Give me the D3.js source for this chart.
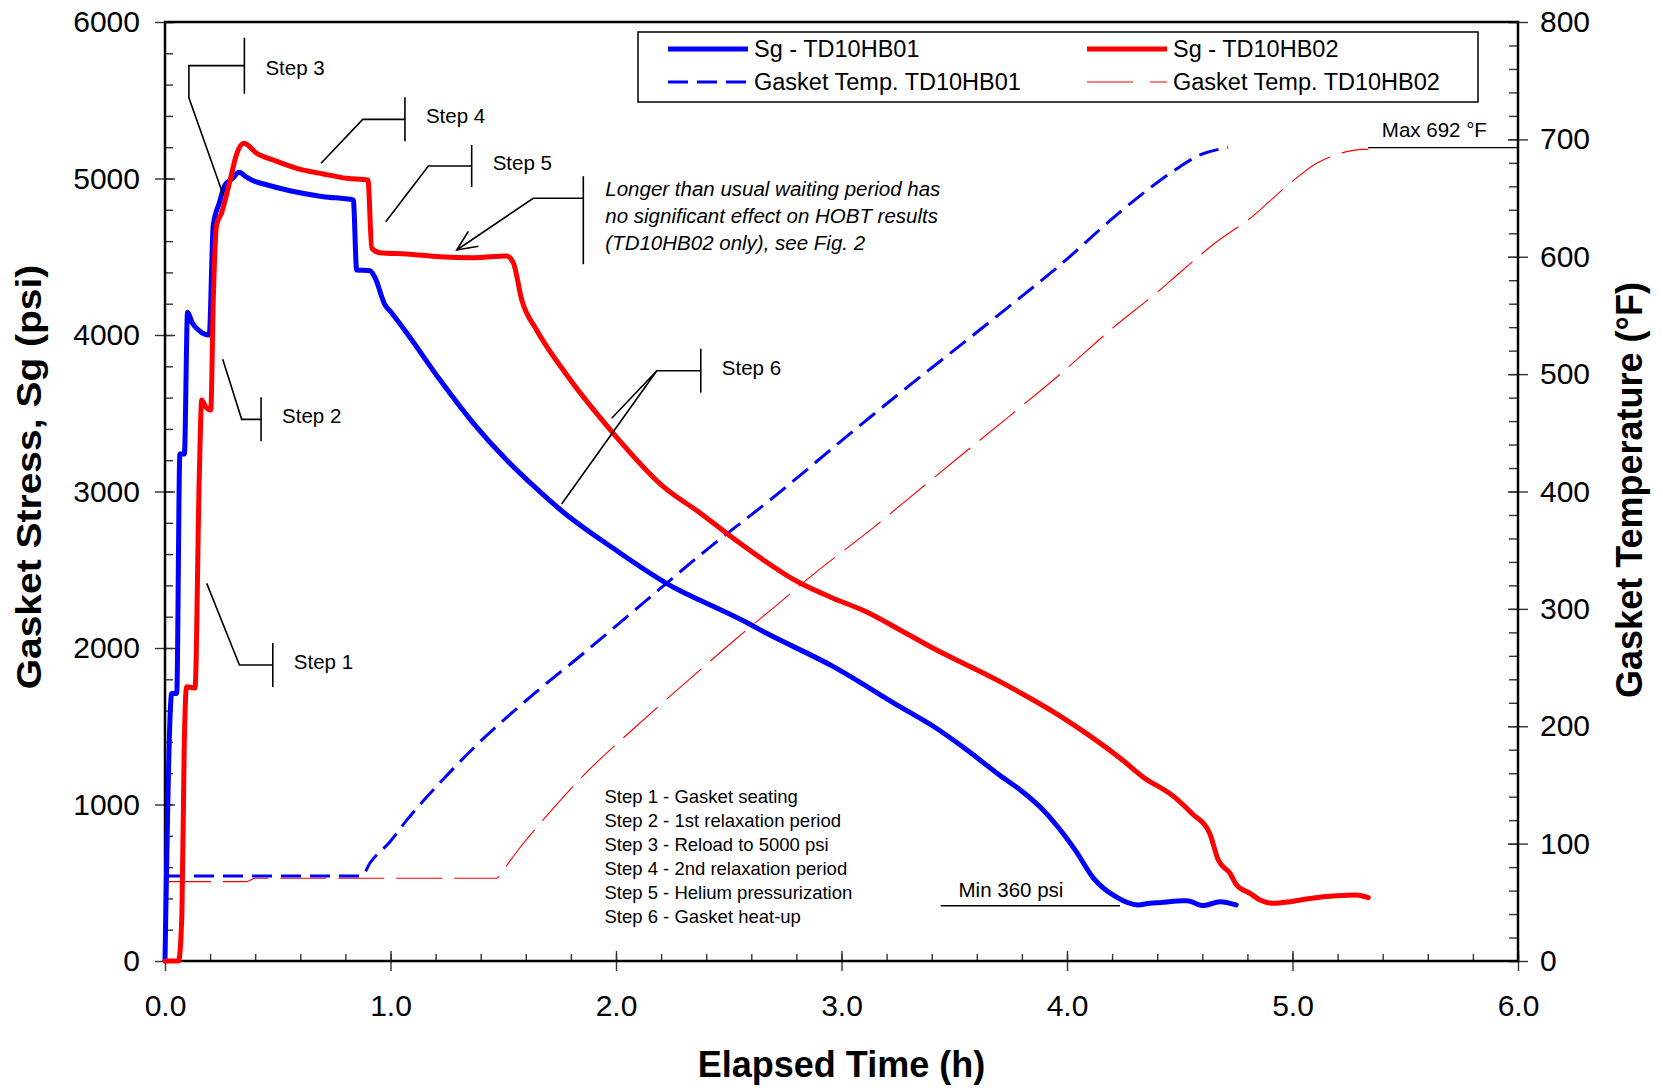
<!DOCTYPE html>
<html>
<head>
<meta charset="utf-8">
<script src="https://cdn.jsdelivr.net/npm/d3@7"></script>
<style>
  body { margin: 0; background: #fff; }
  svg { display: block; font-family: 'Liberation Sans', Arial, sans-serif; }
</style>
</head>
<body>
<div id="chart"></div>
<script>
// elapsed time (h) / gasket stress (psi)
const sg01Time = [0, 0.030, 0.052, 0.066, 0.086, 0.100, 0.120, 0.150, 0.196, 0.214, 0.240, 0.266, 0.300, 0.328, 0.360, 0.392, 0.450, 0.554, 0.702, 0.835,
  0.850, 0.909, 0.930, 0.976, 1.000, 1.072, 1.220, 1.367, 1.515, 1.654, 1.752, 1.988, 2.278, 2.373, 2.560, 2.668, 2.964, 3.259, 3.407, 3.555, 3.703,
  3.800, 3.880, 3.959, 4.038, 4.117, 4.216, 4.315, 4.368, 4.414, 4.516, 4.532, 4.605, 4.678, 4.750];
const sg01 = [0, 1710, 1710, 3240, 3240, 4145, 4080, 4030, 4000, 4700, 4840, 4958, 5000, 5040, 5010, 4985, 4960, 4922, 4884, 4863,
  4415, 4411, 4370, 4192, 4150, 4013, 3712, 3437, 3201, 3010, 2885, 2637, 2370, 2305, 2177, 2094, 1881, 1625, 1500, 1350, 1185,
  1085, 985, 858, 705, 530, 411, 358, 369, 373, 385, 385, 354, 379, 358];

const sg02Time = [0, 0.060, 0.075, 0.085, 0.096, 0.133, 0.152, 0.163, 0.180, 0.203, 0.214, 0.229, 0.251, 0.288, 0.318, 0.350, 0.407, 0.480, 0.584, 0.702,
  0.806, 0.900, 0.917, 0.953, 1.072, 1.220, 1.367, 1.515, 1.545, 1.582, 1.648, 1.766, 1.988, 2.210, 2.373, 2.520, 2.816, 2.960, 3.112, 3.260, 3.407, 3.703,
  3.970, 4.100, 4.246, 4.335, 4.474, 4.553, 4.632, 4.671, 4.723, 4.752, 4.812, 4.856, 4.915, 4.989, 5.078, 5.196, 5.284, 5.336];
const sg02 = [0, 0, 300, 1350, 1753, 1744, 3095, 3585, 3542, 3521, 4224, 4703, 4780, 4984, 5157, 5225, 5161, 5118, 5065, 5029,
  5001, 4990, 4554, 4526, 4518, 4500, 4494, 4505, 4460, 4224, 4032, 3776, 3372, 3031, 2863, 2701, 2415, 2320, 2230, 2115, 1998, 1785,
  1565, 1440, 1284, 1178, 1050, 944, 818, 645, 560, 486, 432, 390, 369, 379, 400, 417, 422, 405];

// elapsed time (h) / gasket temperature (°F)
const temp01Time = [0, 0.872, 0.909, 0.998, 1.072, 1.220, 1.382, 1.648, 1.855, 2.090, 2.410, 2.683, 3.030, 3.266, 3.500, 3.737, 3.970, 4.207, 4.368, 4.479, 4.590, 4.714];
const temp01 = [72.4, 72.4, 83.5, 101.6, 120, 152, 184, 229.5, 262, 300, 351.6, 392.7, 448, 485, 520.5, 556.7, 593, 633.5, 658.6, 674, 686.7, 693];

const temp02Time = [0, 0.360, 0.400, 1.470, 1.500, 1.566, 1.676, 1.855, 2.090, 2.373, 2.542, 2.697, 2.890, 3.140, 3.289, 3.500, 3.737, 3.970, 4.207, 4.412, 4.514, 4.664, 4.812, 4.989, 5.107, 5.210, 5.314, 5.336];
const temp02 = [67.6, 67.6, 70.5, 70.5, 77.5, 94.6, 120, 158, 200, 248, 276, 300.7, 331.7, 369, 392.7, 426, 463, 500, 540, 571.7, 588.7, 612.8, 632.7, 662.6, 679.6, 688, 691.5, 691.5];

const xTicks = [0, 1, 2, 3, 4, 5, 6];
const yTicks = [0, 1000, 2000, 3000, 4000, 5000, 6000];
const y2Ticks = [0, 100, 200, 300, 400, 500, 600, 700, 800];

const legendItems = ['Sg - TD10HB01', 'Sg - TD10HB02', 'Gasket Temp. TD10HB01', 'Gasket Temp. TD10HB02'];
const stepList = ['Step 1 - Gasket seating', 'Step 2 - 1st relaxation period', 'Step 3 - Reload to 5000 psi',
  'Step 4 - 2nd relaxation period', 'Step 5 - Helium pressurization', 'Step 6 - Gasket heat-up'];
const noteLines = ['Longer than usual waiting period has', 'no significant effect on HOBT results', '(TD10HB02 only), see Fig. 2'];

// callouts: leader points in (h, psi), last point is the bar
const callouts = [
  { label: 'Step 1', pts: [[0.185, 2413], [0.330, 1891], [0.478, 1891]], half: 22, dy: 4 },
  { label: 'Step 2', pts: [[0.256, 3845], [0.340, 3461], [0.426, 3461]], half: 22, dy: 4 },
  { label: 'Step 3', pts: [[0.2585, 4895], [0.106, 5516], [0.106, 5721], [0.352, 5721]], half: 28, dy: 9 },
  { label: 'Step 4', pts: [[0.692, 5097], [0.877, 5378], [1.064, 5378]], half: 22, dy: 4 },
  { label: 'Step 5', pts: [[0.979, 4724], [1.168, 5080], [1.360, 5080]], half: 21, dy: 4 },
  { label: 'Step 6', pts: [[1.981, 3468], [2.181, 3772], [1.759, 2920], [2.181, 3772], [2.376, 3772]], half: 22, dy: 4 }
];
const notePts = [[1.294, 4543], [1.633, 4874], [1.855, 4874]];

const width = 1663;
const height = 1088;
const margin = { top: 22, right: 145, bottom: 127, left: 165 };
const innerWidth = width - margin.left - margin.right;
const innerHeight = height - margin.top - margin.bottom;

const svg = d3.select('#chart').append('svg').attr('width', width).attr('height', height);
svg.append('rect').attr('width', width).attr('height', height).attr('fill', '#fff');

const defs = svg.append('defs');
defs.append('marker')
  .attr('id', 'openArrow')
  .attr('viewBox', '-22 -10 24 20')
  .attr('markerWidth', 24).attr('markerHeight', 20)
  .attr('markerUnits', 'userSpaceOnUse')
  .attr('orient', 'auto')
  .append('path')
  .attr('d', 'M-20,-9 L0,0 L-20,9')
  .attr('fill', 'none').attr('stroke', '#000').attr('stroke-width', 1.6);

const g = svg.append('g').attr('transform', `translate(${margin.left},${margin.top})`);

const x = d3.scaleLinear().domain([0, 6]).range([0, innerWidth]);
const y = d3.scaleLinear().domain([0, 6000]).range([innerHeight, 0]);
const y2 = d3.scaleLinear().domain([0, 800]).range([innerHeight, 0]);

const tickFont = 30;

// tick marks only (no labels)
const marks = (sel, axis) => sel.call(axis.tickFormat('')).call(s => s.selectAll('text').remove());

// x axis
const xMinor = d3.range(0, 6.0001, 0.2);
g.append('g').attr('transform', `translate(0,${innerHeight})`)
  .call(s => marks(s, d3.axisBottom(x).tickValues(xMinor).tickSize(-7)));
g.append('g').attr('transform', `translate(0,${innerHeight})`)
  .call(s => marks(s, d3.axisBottom(x).tickValues(xTicks).tickSize(-10)));
g.append('g').attr('class', 'xlab').attr('transform', `translate(0,${innerHeight})`)
  .call(d3.axisBottom(x).tickValues(xTicks).tickSize(10).tickPadding(24).tickFormat(d3.format('.1f')));

// left axis
const yMinor = d3.range(0, 6001, 200);
g.append('g').call(s => marks(s, d3.axisLeft(y).tickValues(yMinor).tickSize(-8)));
g.append('g').call(s => marks(s, d3.axisLeft(y).tickValues(yTicks).tickSize(-10)));
g.append('g').attr('class', 'ylab')
  .call(d3.axisLeft(y).tickValues(yTicks).tickSize(10).tickPadding(15).tickFormat(d3.format('d')));

// right axis
const y2Minor = d3.range(0, 801, 20);
g.append('g').attr('transform', `translate(${innerWidth},0)`)
  .call(s => marks(s, d3.axisRight(y2).tickValues(y2Minor).tickSize(-9)));
g.append('g').attr('transform', `translate(${innerWidth},0)`)
  .call(s => marks(s, d3.axisRight(y2).tickValues(y2Ticks).tickSize(-10)));
g.append('g').attr('class', 'y2lab').attr('transform', `translate(${innerWidth},0)`)
  .call(d3.axisRight(y2).tickValues(y2Ticks).tickSize(10).tickPadding(12).tickFormat(d3.format('d')));

g.selectAll('.domain').remove();
g.selectAll('.tick line').attr('stroke', '#333').attr('stroke-width', 1.4);
g.selectAll('.tick text').attr('font-size', tickFont).attr('fill', '#000')
  .attr('font-family', "'Liberation Sans', Arial, sans-serif");

// frame
g.append('rect').attr('width', innerWidth).attr('height', innerHeight)
  .attr('fill', 'none').attr('stroke', '#000').attr('stroke-width', 2.5);

// series
const lineY = d3.line().x(d => x(d[0])).y(d => y(d[1]));
const smoothY = d3.line().x(d => x(d[0])).y(d => y(d[1])).curve(d3.curveMonotoneX);
const smoothY2 = d3.line().x(d => x(d[0])).y(d => y2(d[1])).curve(d3.curveMonotoneX);
const zip = (a, b) => a.map((v, i) => [v, b[i]]);

g.append('path').datum(zip(temp02Time, temp02)).attr('d', smoothY2)
  .attr('fill', 'none').attr('stroke', '#ff0000').attr('stroke-width', 1.1).attr('stroke-dasharray', '46,12');
g.append('path').datum(zip(temp01Time, temp01)).attr('d', smoothY2)
  .attr('fill', 'none').attr('stroke', '#0000ff').attr('stroke-width', 3).attr('stroke-dasharray', '20,9');
g.append('path').datum(zip(sg01Time, sg01)).attr('d', smoothY)
  .attr('fill', 'none').attr('stroke', '#0000ff').attr('stroke-width', 5).attr('stroke-linejoin', 'round').attr('stroke-linecap', 'round');
g.append('path').datum(zip(sg02Time, sg02)).attr('d', smoothY)
  .attr('fill', 'none').attr('stroke', '#ff0000').attr('stroke-width', 5).attr('stroke-linejoin', 'round').attr('stroke-linecap', 'round');

// callouts
callouts.forEach(c => {
  const bar = c.pts[c.pts.length - 1];
  g.append('path').datum(c.pts).attr('d', lineY)
    .attr('fill', 'none').attr('stroke', '#000').attr('stroke-width', 1.6);
  g.append('line')
    .attr('x1', x(bar[0])).attr('x2', x(bar[0]))
    .attr('y1', y(bar[1]) - c.half).attr('y2', y(bar[1]) + c.half)
    .attr('stroke', '#000').attr('stroke-width', 1.6);
  g.append('text').attr('x', x(bar[0]) + 21).attr('y', y(bar[1]) + c.dy)
    .attr('font-size', 20.5).text(c.label);
});

// note with arrow
g.append('path').datum(notePts.slice().reverse()).attr('d', lineY)
  .attr('fill', 'none').attr('stroke', '#000').attr('stroke-width', 1.6)
  .attr('marker-end', 'url(#openArrow)');
const noteBar = notePts[notePts.length - 1];
g.append('line')
  .attr('x1', x(noteBar[0])).attr('x2', x(noteBar[0]))
  .attr('y1', y(noteBar[1]) - 22).attr('y2', y(noteBar[1]) + 66)
  .attr('stroke', '#000').attr('stroke-width', 1.6);
g.append('g').selectAll('text').data(noteLines).join('text')
  .attr('x', x(noteBar[0]) + 22)
  .attr('y', (d, i) => y(noteBar[1]) - 9 + i * 27)
  .attr('dy', '0.35em')
  .attr('font-size', 20.5).attr('font-style', 'italic')
  .text(d => d);

// step list
g.append('g').selectAll('text').data(stepList).join('text')
  .attr('x', x(1.949))
  .attr('y', (d, i) => y(1048) + i * 24)
  .attr('dy', '0.35em')
  .attr('font-size', 18.5)
  .text(d => d);

// min / max markers
g.append('line').attr('x1', x(3.44)).attr('x2', x(4.235)).attr('y1', y(353)).attr('y2', y(353))
  .attr('stroke', '#000').attr('stroke-width', 1.4);
g.append('text').attr('x', x(3.519)).attr('y', y(353) - 9).attr('font-size', 20.5).text('Min 360 psi');
g.append('line').attr('x1', x(5.335)).attr('x2', x(6)).attr('y1', y2(693)).attr('y2', y2(693))
  .attr('stroke', '#000').attr('stroke-width', 1.4);
g.append('text').attr('x', x(5.862)).attr('y', y2(693) - 11).attr('text-anchor', 'end')
  .attr('font-size', 20.5).text('Max 692 °F');

// legend
const legend = svg.append('g').attr('transform', 'translate(638,32)');
legend.append('rect').attr('width', 840).attr('height', 70)
  .attr('fill', '#fff').attr('stroke', '#000').attr('stroke-width', 1.5);
const legendStyle = [
  { w: 5, dash: null, color: '#0000ff' },
  { w: 5, dash: null, color: '#ff0000' },
  { w: 3, dash: '20,9', color: '#0000ff' },
  { w: 1.1, dash: '46,17', color: '#ff0000' }
];
legendItems.forEach((name, i) => {
  const col = i % 2, row = Math.floor(i / 2);
  const lx = 30 + col * 419, ly = 17 + row * 33;
  legend.append('line').attr('x1', lx).attr('x2', lx + 80).attr('y1', ly).attr('y2', ly)
    .attr('stroke', legendStyle[i].color).attr('stroke-width', legendStyle[i].w)
    .attr('stroke-dasharray', legendStyle[i].dash);
  legend.append('text').attr('x', lx + 86).attr('y', ly).attr('dy', '0.35em')
    .attr('font-size', 23.5).text(name);
});

// axis titles
svg.append('text').attr('x', margin.left + innerWidth / 2).attr('y', 1077)
  .attr('text-anchor', 'middle').attr('font-size', 36).attr('font-weight', 'bold')
  .text('Elapsed Time (h)');
svg.append('text').attr('transform', 'translate(41,477) rotate(-90) scale(1,0.88)')
  .attr('text-anchor', 'middle').attr('font-size', 39).attr('font-weight', 'bold')
  .text('Gasket Stress, Sg (psi)');
svg.append('text').attr('transform', 'translate(1642,490) rotate(-90)')
  .attr('text-anchor', 'middle').attr('font-size', 36).attr('font-weight', 'bold')
  .text('Gasket Temperature (°F)');
</script>
</body>
</html>
